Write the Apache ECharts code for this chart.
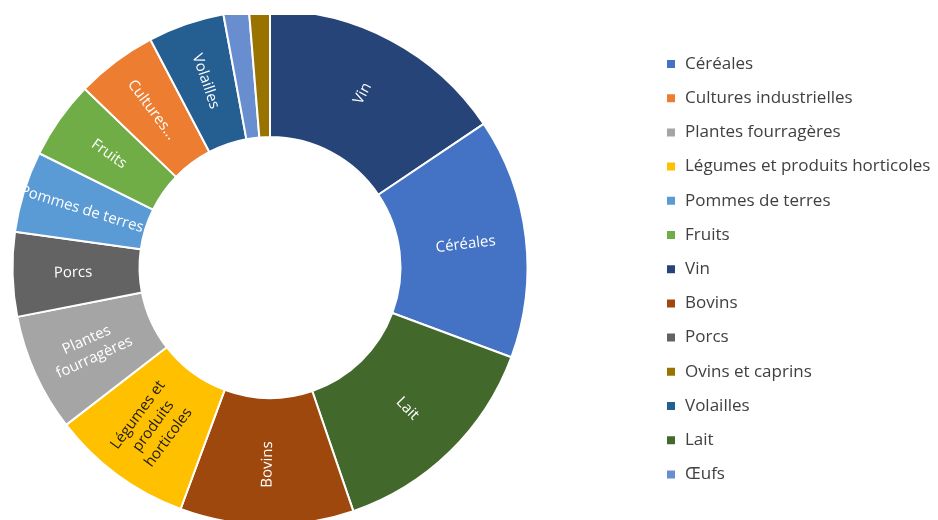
<!DOCTYPE html>
<html>
<head>
<meta charset="utf-8">
<script src="https://cdn.jsdelivr.net/npm/echarts@6/dist/echarts.min.js"></script>
<style>
html, body { margin: 0; padding: 0; background: #ffffff; }
#chart { width: 938px; height: 520px; }
</style>
</head>
<body>
<div id="chart"></div>
<script>
// Production agricole : part de chaque filière (%), dans l'ordre des secteurs
// en partant de midi, sens horaire
const categories = [
  'Vin', 'Céréales', 'Lait', 'Bovins', 'Légumes et produits horticoles',
  'Plantes fourragères', 'Porcs', 'Pommes de terres', 'Fruits',
  'Cultures industrielles', 'Volailles', 'Œufs', 'Ovins et caprins'
];
const shares = [15.6, 15.1, 14.1, 10.9, 8.9, 7.4, 5.3, 5.1, 4.9, 5.1, 4.8, 1.6, 1.3];

// Texte affiché dans chaque secteur
const sliceLabels = [
  'Vin', 'Céréales', 'Lait', 'Bovins', 'Légumes et\nproduits\nhorticoles',
  'Plantes\nfourragères', 'Porcs', 'Pommes de terres', 'Fruits',
  'Cultures...', 'Volailles', 'Œufs', 'Ovins et caprins'
];

// Ordre de la légende
const legendOrder = [
  'Céréales', 'Cultures industrielles', 'Plantes fourragères',
  'Légumes et produits horticoles', 'Pommes de terres', 'Fruits', 'Vin',
  'Bovins', 'Porcs', 'Ovins et caprins', 'Volailles', 'Lait', 'Œufs'
];

// Couleurs par filière
const sliceColors = {
  'Céréales': '#4472C4',
  'Cultures industrielles': '#ED7D31',
  'Plantes fourragères': '#A5A5A5',
  'Légumes et produits horticoles': '#FFC000',
  'Pommes de terres': '#5B9BD5',
  'Fruits': '#70AD47',
  'Vin': '#264478',
  'Bovins': '#9E480E',
  'Porcs': '#636363',
  'Ovins et caprins': '#997300',
  'Volailles': '#255E91',
  'Lait': '#43682B',
  'Œufs': '#698ED0'
};
const darkLabelText = { 'Légumes et produits horticoles': '#1a1a1a' };

const FONT = '"Open Sans", Lato, sans-serif';

const chart = echarts.init(document.getElementById('chart'), null, { renderer: 'canvas' });

chart.setOption({
  animation: false,
  backgroundColor: '#ffffff',
  legend: {
    orient: 'vertical',
    left: 660,
    top: 49,
    icon: 'rect',
    itemWidth: 10,
    itemHeight: 10,
    itemGap: 14.2,
    selectedMode: false,
    data: legendOrder,
    textStyle: {
      fontFamily: FONT,
      fontSize: 17,
      lineHeight: 20,
      color: '#404040',
      padding: [0, 0, 0, 4]
    }
  },
  series: [{
    type: 'pie',
    center: [270, 267.5],
    radius: [130.5, 257.5],
    startAngle: 90,
    clockwise: true,
    avoidLabelOverlap: false,
    minShowLabelAngle: 10,
    emphasis: { disabled: true },
    itemStyle: { borderColor: '#ffffff', borderWidth: 2 },
    labelLine: { show: false },
    label: {
      show: true,
      position: 'inside',
      rotate: 'radial',
      fontFamily: FONT,
      fontSize: 15,
      lineHeight: 19,
      color: '#ffffff'
    },
    data: categories.map((name, i) => ({
      name: name,
      value: shares[i],
      itemStyle: { color: sliceColors[name] },
      label: {
        formatter: sliceLabels[i],
        color: darkLabelText[name] || '#ffffff'
      }
    }))
  }],
  graphic: [{
    // bord supérieur de la zone du graphique
    type: 'rect',
    z: 100,
    shape: { x: 0, y: 0, width: 560, height: 15 },
    style: { fill: '#ffffff' }
  }]
});
</script>
</body>
</html>
